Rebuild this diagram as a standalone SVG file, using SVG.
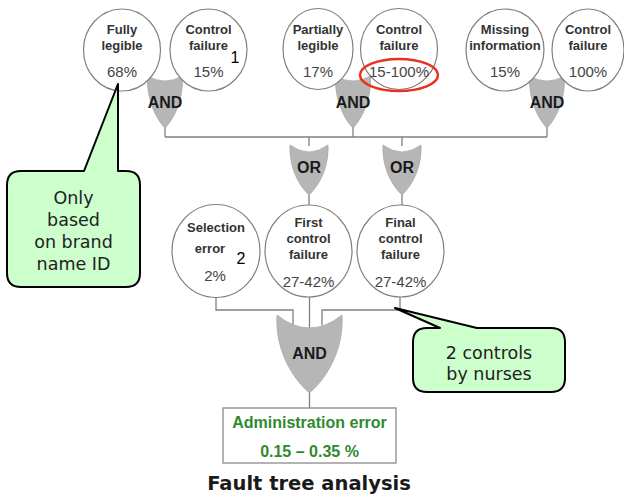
<svg xmlns="http://www.w3.org/2000/svg" width="624" height="495" viewBox="0 0 624 495">
<style>
.bg{fill:#ffffff}
.ev{fill:#ffffff;stroke:#808080;stroke-width:1.2}
.gt{fill:#b6b6b6;stroke:#a8a8a8;stroke-width:0.8}
.cn{fill:none;stroke:#808080;stroke-width:1.3}
.lbl{font-family:"Liberation Sans",Arial,sans-serif;font-weight:bold;font-size:13px;fill:#333333;text-anchor:middle}
.pct{font-family:"Liberation Sans",Arial,sans-serif;font-size:15px;fill:#444444;text-anchor:middle}
.num{font-family:"Liberation Sans",Arial,sans-serif;font-size:16px;fill:#000000;text-anchor:middle}
.gl{font-family:"Liberation Sans",Arial,sans-serif;font-weight:bold;font-size:16px;fill:#1a1a1a;text-anchor:middle}
.note{fill:#ccffcc;stroke:#000000;stroke-width:2;stroke-linejoin:round}
.nt{font-family:"DejaVu Sans",sans-serif;font-size:17.5px;fill:#222222;text-anchor:middle}
.res{font-family:"Liberation Sans",Arial,sans-serif;font-weight:bold;font-size:16px;fill:#2f8a2f;text-anchor:middle}
.title{font-family:"DejaVu Sans",sans-serif;font-weight:bold;font-size:19.5px;fill:#1a1a1a;text-anchor:middle}
</style>
<rect class="bg" x="0" y="0" width="624" height="495"/>

<g id="connectors">
<path class="cn" d="M165,126 V137 M353,126 V137 M547,126 V137 M165,137 H547"/>
<path class="cn" d="M309,137 V146 M402,137 V146"/>
<path class="cn" d="M309,194 V205 M402,194 V205"/>
<path class="cn" d="M216,298 V310 H293 V325 M309.5,297 V328 M400,297 V310 H322 V325"/>
<path class="cn" d="M309.5,392 V408"/>
</g>

<g id="gate-and-1">
<path class="gt" d="M147.5,76 Q165,86 182.5,76 C183.5,96 176.2,116.5 165,128 C153.8,116.5 146.5,96 147.5,76 Z"/>
<text class="gl" x="165" y="108">AND</text>
</g>
<g id="gate-and-2">
<path class="gt" d="M335.5,76 Q353,86 370.5,76 C371.5,96 364.2,116.5 353,128 C341.8,116.5 334.5,96 335.5,76 Z"/>
<text class="gl" x="353" y="108">AND</text>
</g>
<g id="gate-and-3">
<path class="gt" d="M529.5,76 Q547,86 564.5,76 C565.5,96 558.2,116.5 547,128 C535.8,116.5 528.5,96 529.5,76 Z"/>
<text class="gl" x="547" y="108">AND</text>
</g>

<g id="node-fully-legible">
<ellipse class="ev" cx="122" cy="50" rx="38.5" ry="41"/>
<text class="lbl" x="122" y="34">Fully</text>
<text class="lbl" x="122" y="50">legible</text>
<text class="pct" x="122" y="77">68%</text>
</g>
<g id="node-control-failure-1">
<ellipse class="ev" cx="208.5" cy="50" rx="38.5" ry="41"/>
<text class="lbl" x="208.5" y="34">Control</text>
<text class="lbl" x="208.5" y="50">failure</text>
<text class="pct" x="208.5" y="77">15%</text>
<text class="num" x="235" y="63">1</text>
</g>
<g id="node-partially-legible">
<ellipse class="ev" cx="318" cy="49" rx="35" ry="40.5"/>
<text class="lbl" x="318" y="34">Partially</text>
<text class="lbl" x="318" y="50">legible</text>
<text class="pct" x="318" y="77">17%</text>
</g>
<g id="node-control-failure-2">
<ellipse class="ev" cx="399" cy="49" rx="38.5" ry="40.5"/>
<text class="lbl" x="399" y="34">Control</text>
<text class="lbl" x="399" y="50">failure</text>
<text class="pct" x="399" y="77">15-100%</text>
<ellipse cx="399" cy="75" rx="39" ry="16" fill="none" stroke="#e8321e" stroke-width="2.5"/>
</g>
<g id="node-missing-information">
<ellipse class="ev" cx="505" cy="50" rx="39" ry="41"/>
<text class="lbl" x="505" y="34">Missing</text>
<text class="lbl" x="505" y="50">information</text>
<text class="pct" x="505" y="77">15%</text>
</g>
<g id="node-control-failure-3">
<ellipse class="ev" cx="588" cy="50" rx="36" ry="41"/>
<text class="lbl" x="588" y="34">Control</text>
<text class="lbl" x="588" y="50">failure</text>
<text class="pct" x="588" y="77">100%</text>
</g>

<g id="gate-or-1">
<path class="gt" d="M290,145 Q309,159 328,145 C329.1,164.25 321.2,183.5 309,195 C296.8,183.5 288.9,164.25 290,145 Z"/>
<text class="gl" x="309" y="173">OR</text>
</g>
<g id="gate-or-2">
<path class="gt" d="M383,145 Q402,159 421,145 C422.1,164.25 414.2,183.5 402,195 C389.8,183.5 381.9,164.25 383,145 Z"/>
<text class="gl" x="402" y="173">OR</text>
</g>

<g id="node-selection-error">
<ellipse class="ev" cx="216" cy="251" rx="44" ry="46.5"/>
<text class="lbl" x="216" y="232">Selection</text>
<text class="lbl" x="210" y="253">error</text>
<text class="pct" x="215" y="281">2%</text>
<text class="num" x="241" y="264">2</text>
</g>
<g id="node-first-control-failure">
<ellipse class="ev" cx="308.5" cy="251" rx="43.5" ry="46"/>
<text class="lbl" x="308.5" y="227">First</text>
<text class="lbl" x="308.5" y="243">control</text>
<text class="lbl" x="308.5" y="259">failure</text>
<text class="pct" x="308.5" y="287">27-42%</text>
</g>
<g id="node-final-control-failure">
<ellipse class="ev" cx="400.5" cy="251" rx="43.5" ry="46"/>
<text class="lbl" x="400.5" y="227">Final</text>
<text class="lbl" x="400.5" y="243">control</text>
<text class="lbl" x="400.5" y="259">failure</text>
<text class="pct" x="400.5" y="287">27-42%</text>
</g>

<g id="gate-and-4">
<path class="gt" d="M277,315 Q309.5,341 342,315 C344,345 330.3,375 309.5,393 C288.7,375 275,345 277,315 Z"/>
<text class="gl" x="309.5" y="359">AND</text>
</g>

<g id="node-administration-error">
<rect x="223" y="408" width="173" height="55" fill="#ffffff" stroke="#8a8a8a" stroke-width="1.3"/>
<text class="res" x="309.5" y="428">Administration error</text>
<text class="res" x="309.5" y="457">0.15 – 0.35 %</text>
</g>

<g id="note-brand-name">
<path class="note" d="M21,171 L84,171 L118,84 L118,171 L126,171 Q140,171 140,185 L140,273 Q140,287 126,287 L21,287 Q7,287 7,273 L7,185 Q7,171 21,171 Z"/>
<text class="nt" x="73.5" y="204">Only</text>
<text class="nt" x="73.5" y="226">based</text>
<text class="nt" x="73.5" y="248">on brand</text>
<text class="nt" x="73.5" y="270">name ID</text>
</g>

<g id="note-nurses">
<path class="note" d="M427,328 L440,328 L395,308 L477,328 L551,328 Q565,328 565,342 L565,378 Q565,392 551,392 L427,392 Q413,392 413,378 L413,342 Q413,328 427,328 Z"/>
<text class="nt" x="489" y="359">2 controls</text>
<text class="nt" x="489" y="380">by nurses</text>
</g>

<text class="title" x="309" y="490">Fault tree analysis</text>
</svg>
